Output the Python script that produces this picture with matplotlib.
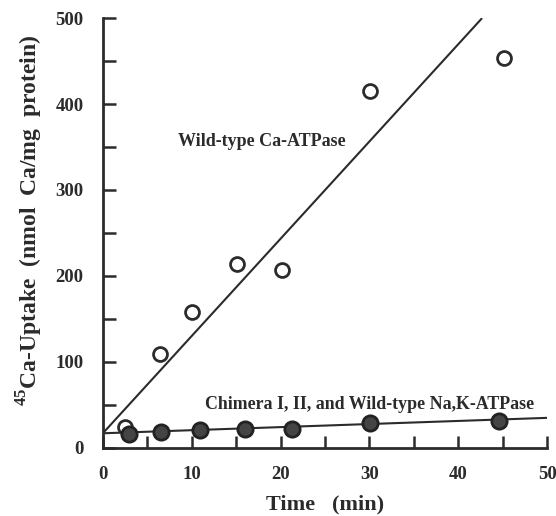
import numpy as np
import matplotlib
matplotlib.use("Agg")
import matplotlib.pyplot as plt
from matplotlib.ticker import MultipleLocator

# wild-type Ca-ATPase (open circles)
ca_time = [2.5, 6.4, 10.0, 15.1, 20.2, 30.1, 45.2]
ca_uptake = [24, 109, 158, 214, 207, 415, 453]

# chimera I, II and wild-type Na,K-ATPase (filled circles)
nak_time = [2.9, 6.5, 10.9, 16.0, 21.3, 30.1, 44.6]
nak_uptake = [16, 19, 21, 22, 22, 29, 31]

# fitted lines (start, end)
ca_fit_x = [0, 42.6]
ca_fit_y = [17, 499]
nak_fit_x = [0, 50.2]
nak_fit_y = [17, 35]

plt.rcParams['font.family'] = ['Liberation Serif', 'DejaVu Serif']
plt.rcParams['font.weight'] = 'bold'
plt.rcParams['mathtext.fontset'] = 'custom'
plt.rcParams['mathtext.rm'] = 'Liberation Serif:bold'

ink = '#2b2b2b'

fig = plt.figure(figsize=(5.56, 5.16), dpi=100)
ax = fig.add_axes([0.185, 0.132, 0.799, 0.833])

ax.plot(ca_fit_x, ca_fit_y, color=ink, lw=1.5, zorder=2)
ax.plot(nak_fit_x, nak_fit_y, color=ink, lw=1.5, zorder=2)
ax.plot(ca_time, ca_uptake, 'o', ms=10, mfc='white', mec=ink, mew=2, zorder=3)
ax.plot(nak_time, nak_uptake, 'o', ms=11, mfc='#444444', mec='#222222', mew=2, zorder=4)

ax.text(8.5, 356, 'Wild-type Ca-ATPase', fontsize=13, color=ink, va='center')
ax.text(11.5, 50, 'Chimera I, II, and Wild-type Na,K-ATPase', fontsize=12.9,
        color=ink, va='center')

ax.set_xlim(0, 50)
ax.set_ylim(0, 500)
ax.xaxis.set_major_locator(MultipleLocator(10))
ax.xaxis.set_minor_locator(MultipleLocator(5))
ax.yaxis.set_major_locator(MultipleLocator(100))
ax.yaxis.set_minor_locator(MultipleLocator(50))
ax.tick_params(which='both', direction='in', length=9, width=1.8, color=ink,
               labelsize=13.5, labelcolor=ink)
ax.tick_params(axis='x', pad=13)
ax.tick_params(axis='y', pad=14)

for side in ['top', 'right']:
    ax.spines[side].set_visible(False)
for side in ['left', 'bottom']:
    ax.spines[side].set_linewidth(2)
    ax.spines[side].set_color(ink)

ax.set_xlabel('Time   (min)', fontsize=16, fontweight='bold', color=ink, labelpad=8)
ax.set_ylabel(r'$^{45}$Ca-Uptake  (nmol  Ca/mg  protein)', fontsize=17,
              fontweight='bold', color=ink)
ax.yaxis.set_label_coords(-0.13, 0.53)

fig.savefig('out.png', dpi=100)
